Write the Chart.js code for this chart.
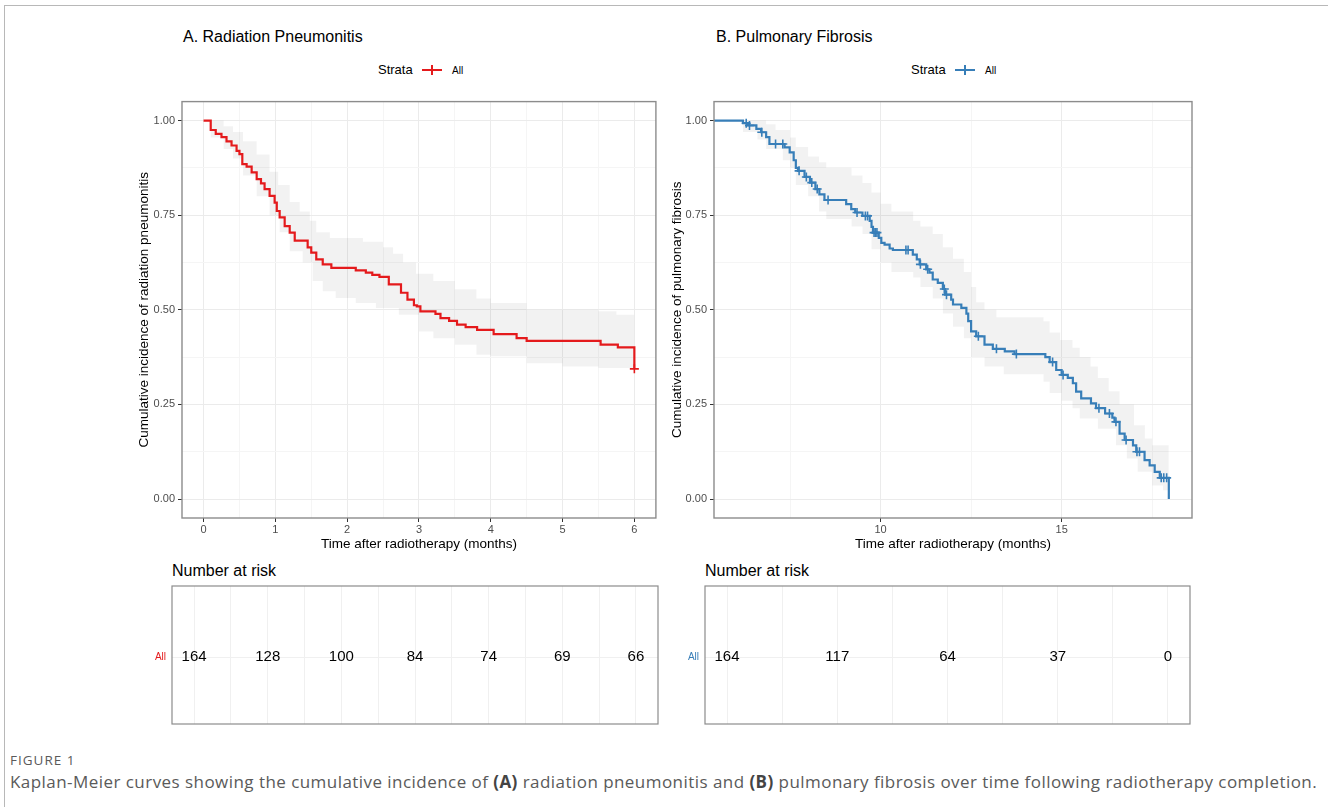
<!DOCTYPE html>
<html>
<head>
<meta charset="utf-8">
<script src="https://cdn.jsdelivr.net/npm/chart.js@4.4.1/dist/chart.umd.min.js"></script>
<style>
  body { margin: 0; background: #fff; width: 1328px; height: 807px; position: relative; overflow: hidden;
         font-family: "Liberation Sans", Arial, sans-serif; }
  .frame { position: absolute; left: 4px; top: 5px; right: 0; bottom: 0;
           border-top: 1px solid #b8b8b8; border-left: 1px solid #b8b8b8; }
  .txt { position: absolute; white-space: nowrap; color: #000; }
  canvas { position: absolute; }
  .mark { position: absolute; width: 20px; height: 2px; }
  .mark::after { content: ""; position: absolute; left: 9px; top: -4px; width: 2px; height: 10px; background: inherit; }
  .cap { font-family: "Open Sans", sans-serif; color: #5a5a5a; }
  .cap b { color: #444; }
</style>
</head>
<body>
<div class="frame"></div>

<div class="txt" style="left:183px; top:28px; font-size:16px; line-height:18px;">A. Radiation Pneumonitis</div>
<div class="txt" style="left:378px; top:63px; font-size:13px; line-height:14px;">Strata</div>
<div class="mark" style="left:422px; top:69px; background:#e41a1c;"></div>
<div class="txt" style="left:452px; top:65px; font-size:10px; line-height:11px;">All</div>

<div class="txt" style="left:716px; top:28px; font-size:16px; line-height:18px;">B. Pulmonary Fibrosis</div>
<div class="txt" style="left:911px; top:63px; font-size:13px; line-height:14px;">Strata</div>
<div class="mark" style="left:955px; top:69px; background:#377eb8;"></div>
<div class="txt" style="left:985px; top:65px; font-size:10px; line-height:11px;">All</div>

<div class="txt" style="left:172px; top:562px; font-size:16px; line-height:18px;">Number at risk</div>
<div class="txt" style="left:705px; top:562px; font-size:16px; line-height:18px;">Number at risk</div>

<canvas id="kmA" width="537" height="470" style="left:125px; top:92px;"></canvas>
<canvas id="kmB" width="545" height="470" style="left:657px; top:92px;"></canvas>
<canvas id="riskA" width="530" height="150" style="left:140px; top:580px;"></canvas>
<canvas id="riskB" width="530" height="150" style="left:670px; top:580px;"></canvas>

<div class="txt cap" style="left:10px; top:751px; font-size:13.5px; line-height:18px; letter-spacing:1px;">FIGURE 1</div>
<div class="txt cap" style="left:10px; top:771px; font-size:17px; line-height:22px; letter-spacing:0.45px;">Kaplan-Meier curves showing the cumulative incidence of <b>(A)</b> radiation pneumonitis and <b>(B)</b> pulmonary fibrosis over time following radiotherapy completion.</div>

<script>
// A. radiation pneumonitis (months 0-6)
const timesA = [0, 0.1, 0.17, 0.25, 0.32, 0.39, 0.46, 0.5, 0.54, 0.6, 0.67, 0.74, 0.8, 0.85, 0.92, 0.99, 1.02, 1.06, 1.13, 1.2,
  1.27, 1.45, 1.5, 1.57, 1.66, 1.78, 2.12, 2.26, 2.35, 2.45, 2.58, 2.75, 2.84, 2.93, 2.97, 3.02, 3.23, 3.3, 3.42, 3.53,
  3.65, 3.81, 4.04, 4.36, 4.5, 5.53, 5.77, 6.0];
const incidenceA = [1, 0.975, 0.965, 0.956, 0.945, 0.934, 0.92, 0.911, 0.885, 0.878, 0.863, 0.845, 0.834, 0.819, 0.801, 0.783, 0.761, 0.744, 0.721, 0.704,
  0.683, 0.665, 0.651, 0.633, 0.62, 0.611, 0.604, 0.598, 0.592, 0.587, 0.567, 0.545, 0.527, 0.512, 0.509, 0.496, 0.489, 0.478, 0.471, 0.461,
  0.454, 0.447, 0.436, 0.425, 0.418, 0.408, 0.401, 0.344];
const upperTimesA = [0, 0.28, 0.41, 0.55, 0.74, 0.92, 1.04, 1.2, 1.34, 1.48, 1.57, 1.76, 2.22, 2.5, 2.64, 2.78, 2.96, 3.2, 3.5, 3.8, 4.0, 4.5, 5.5, 5.75, 6.0];
const upperA = [1, 0.985, 0.97, 0.945, 0.91, 0.865, 0.83, 0.785, 0.76, 0.735, 0.705, 0.69, 0.68, 0.665, 0.648, 0.625, 0.595, 0.576, 0.554, 0.53, 0.518, 0.5, 0.496, 0.487, 0.483];
const lowerTimesA = [0, 0.1, 0.28, 0.41, 0.55, 0.74, 0.92, 1.06, 1.2, 1.38, 1.52, 1.66, 1.84, 2.12, 2.4, 2.72, 3.0, 3.2, 3.5, 3.8, 4.0, 4.5, 5.0, 5.5, 6.0];
const lowerA = [1, 0.955, 0.925, 0.9, 0.855, 0.8, 0.75, 0.705, 0.655, 0.625, 0.576, 0.549, 0.531, 0.518, 0.505, 0.487, 0.443, 0.425, 0.408, 0.381, 0.377, 0.359, 0.35, 0.346, 0.332];
const censorTimesA = [6.0];
const censorA = [0.344];
const riskTimesA = [0, 1, 2, 3, 4, 5, 6];
const riskA = [164, 128, 100, 84, 74, 69, 66];
const xTicksA = [0, 1, 2, 3, 4, 5, 6];
const xMinorA = [0.5, 1.5, 2.5, 3.5, 4.5, 5.5];

// B. pulmonary fibrosis (months 6-18)
const timesB = [5.4, 6.2, 6.34, 6.57, 6.7, 6.84, 6.93, 7.35, 7.49, 7.6, 7.66, 7.72, 7.9, 8.05, 8.2, 8.31, 8.45, 9.05, 9.19, 9.3,
  9.5, 9.7, 9.75, 9.79, 9.95, 10.02, 10.11, 10.25, 10.34, 10.89, 11.0, 11.08, 11.26, 11.35, 11.44, 11.58, 11.72, 11.78, 11.95, 12.0,
  12.23, 12.37, 12.42, 12.5, 12.64, 12.87, 13.1, 13.43, 13.7, 14.55, 14.67, 14.85, 15.0, 15.17, 15.31, 15.4, 15.54, 15.81, 15.95, 16.2,
  16.4, 16.46, 16.6, 16.74, 16.97, 17.06, 17.29, 17.43, 17.57, 17.71, 17.96];
const incidenceB = [1, 0.993, 0.987, 0.978, 0.969, 0.956, 0.938, 0.929, 0.916, 0.895, 0.875, 0.867, 0.851, 0.836, 0.819, 0.805, 0.79, 0.779, 0.766, 0.757,
  0.748, 0.735, 0.719, 0.704, 0.69, 0.677, 0.672, 0.662, 0.658, 0.646, 0.633, 0.62, 0.607, 0.598, 0.58, 0.571, 0.555, 0.54, 0.527, 0.514,
  0.505, 0.49, 0.47, 0.443, 0.43, 0.408, 0.397, 0.39, 0.383, 0.375, 0.362, 0.341, 0.328, 0.32, 0.306, 0.284, 0.266, 0.253, 0.24, 0.226,
  0.215, 0.204, 0.173, 0.156, 0.142, 0.125, 0.103, 0.089, 0.072, 0.056, 0];
const upperTimesB = [5.4, 6.5, 6.84, 7.1, 7.5, 7.66, 8.0, 8.3, 8.5, 9.2, 9.5, 9.75, 10.0, 10.3, 10.9, 11.1, 11.44, 11.72, 12.0, 12.3,
  12.5, 12.64, 12.87, 13.2, 14.5, 14.67, 14.96, 15.3, 15.5, 15.8, 16.0, 16.3, 16.6, 17.0, 17.3, 17.5, 17.96];
const upperB = [1, 1, 0.99, 0.975, 0.955, 0.93, 0.905, 0.89, 0.875, 0.855, 0.835, 0.81, 0.78, 0.76, 0.735, 0.72, 0.7, 0.665, 0.635, 0.6,
  0.56, 0.52, 0.5, 0.48, 0.47, 0.44, 0.42, 0.4, 0.375, 0.35, 0.32, 0.285, 0.25, 0.195, 0.16, 0.142, 0.142];
const lowerTimesB = [5.4, 6.2, 6.6, 6.84, 7.3, 7.5, 7.66, 8.0, 8.3, 8.5, 9.2, 9.5, 9.75, 10.0, 10.3, 10.9, 11.1, 11.44, 11.72, 12.0,
  12.3, 12.5, 12.87, 13.4, 14.5, 14.67, 15.0, 15.3, 15.5, 16.0, 16.5, 16.8, 17.1, 17.5, 17.8, 17.96];
const lowerB = [1, 0.97, 0.95, 0.925, 0.895, 0.875, 0.83, 0.8, 0.76, 0.74, 0.72, 0.7, 0.66, 0.625, 0.6, 0.585, 0.56, 0.53, 0.49, 0.455,
  0.425, 0.375, 0.35, 0.33, 0.31, 0.28, 0.26, 0.24, 0.213, 0.186, 0.142, 0.107, 0.072, 0.036, 0.023, 0.023];
const censorTimesB = [6.29, 6.38, 6.72, 7.1, 7.3, 7.75, 7.95, 8.1, 8.25, 8.55, 9.35, 9.58, 9.64, 9.82, 9.86, 9.9, 10.7, 10.76, 11.1, 11.3,
  11.76, 11.82, 12.7, 13.2, 13.75, 14.75, 15.04, 16.03, 16.32, 16.5, 16.78, 17.08, 17.15, 17.75, 17.82, 17.9];
const censorB = [0.993, 0.987, 0.969, 0.938, 0.938, 0.867, 0.851, 0.836, 0.819, 0.79, 0.757, 0.748, 0.748, 0.704, 0.704, 0.704, 0.658, 0.658, 0.62, 0.607,
  0.555, 0.54, 0.43, 0.397, 0.383, 0.362, 0.328, 0.24, 0.226, 0.204, 0.156, 0.125, 0.125, 0.056, 0.056, 0.056];
const riskTimesB = [6, 9, 12, 15, 18];
const riskB = [164, 117, 64, 37, 0];
const xTicksB = [10, 15];
const xMinorB = [7.5, 12.5, 17.5];
const riskGridB = [6, 7.5, 9, 10.5, 12, 13.5, 15, 16.5, 18];

const yTicks = [0, 0.25, 0.5, 0.75, 1];
const yMinor = [0.125, 0.375, 0.625, 0.875];

const RED = "#e41a1c";
const BLUE = "#377eb8";

Chart.defaults.font.family = '"Liberation Sans", Arial, sans-serif';
Chart.defaults.animation = false;

const toPoints = (xs, ys) => xs.map((x, i) => ({ x, y: ys[i] }));

// draws the grey box round the plotting area
const panelBorder = {
  id: "panelBorder",
  afterDraw(chart, args, opts) {
    const { ctx, chartArea: a } = chart;
    ctx.save();
    ctx.strokeStyle = opts.color || "#8c8c8c";
    ctx.lineWidth = opts.width || 1.4;
    ctx.strokeRect(a.left, a.top, a.width, a.height);
    ctx.restore();
  },
};

// writes the at-risk counts at the dataset points
const riskLabels = {
  id: "riskLabels",
  afterDatasetsDraw(chart, args, opts) {
    if (!opts.counts) return;
    const { ctx } = chart;
    const meta = chart.getDatasetMeta(0);
    ctx.save();
    ctx.font = '15px "Liberation Sans", Arial, sans-serif';
    ctx.fillStyle = "#000";
    ctx.textAlign = "center";
    ctx.textBaseline = "middle";
    meta.data.forEach((pt, i) => ctx.fillText(String(opts.counts[i]), pt.x, pt.y));
    ctx.restore();
  },
};

Chart.register(panelBorder, riskLabels);

function tickScale(major, minor) {
  return (scale) => {
    scale.ticks = [...major, ...minor].sort((a, b) => a - b).map((v) => ({ value: v }));
  };
}

function kmChart(id, d) {
  new Chart(document.getElementById(id), {
    type: "line",
    data: {
      datasets: [
        {
          data: toPoints(d.times, d.inc),
          stepped: true,
          borderColor: d.color,
          borderWidth: 2.2,
          pointRadius: 0,
          fill: false,
        },
        {
          data: toPoints(d.censT, d.censV),
          showLine: false,
          pointStyle: "cross",
          pointRadius: 4.5,
          borderColor: d.color,
          borderWidth: 1.6,
        },
        {
          data: toPoints(d.loT, d.lo),
          stepped: true,
          borderWidth: 0,
          pointRadius: 0,
          fill: false,
        },
        {
          data: toPoints(d.upT, d.up),
          stepped: true,
          borderWidth: 0,
          pointRadius: 0,
          fill: "-1",
          backgroundColor: "rgba(0,0,0,0.05)",
        },
      ],
    },
    options: {
      responsive: false,
      layout: { padding: { top: 9, right: d.padRight, left: 0, bottom: 0 } },
      plugins: { legend: { display: false }, tooltip: { enabled: false }, panelBorder: {} },
      scales: {
        x: {
          type: "linear",
          min: d.xMin,
          max: d.xMax,
          afterBuildTicks: tickScale(d.xMajor, d.xMinor),
          afterFit: (s) => { s.height = 44; },
          grid: {
            color: (c) => (d.xMajor.includes(c.tick && c.tick.value) ? "#ebebeb" : "#f5f5f5"),
            tickColor: (c) => (d.xMajor.includes(c.tick && c.tick.value) ? "#333" : "rgba(0,0,0,0)"),
            tickLength: 4,
            lineWidth: 1,
          },
          border: { display: false },
          ticks: {
            autoSkip: false,
            maxRotation: 0,
            padding: 1,
            color: "#4d4d4d",
            font: { size: 11 },
            callback: (v) => (d.xMajor.includes(v) ? String(v) : ""),
          },
          title: {
            display: true,
            text: "Time after radiotherapy (months)",
            color: "#000",
            font: { size: 13.5 },
            padding: { top: 0, bottom: 10 },
          },
        },
        y: {
          type: "linear",
          min: -0.05,
          max: 1.05,
          afterBuildTicks: tickScale(yTicks, yMinor),
          afterFit: (s) => { s.width = 57; },
          grid: {
            color: (c) => (yTicks.includes(c.tick && c.tick.value) ? "#ebebeb" : "#f5f5f5"),
            tickColor: (c) => (yTicks.includes(c.tick && c.tick.value) ? "#333" : "rgba(0,0,0,0)"),
            tickLength: 4,
          },
          border: { display: false },
          ticks: {
            autoSkip: false,
            padding: 3,
            color: "#4d4d4d",
            font: { size: 11 },
            callback: (v) => (yTicks.includes(v) ? v.toFixed(2) : ""),
          },
          title: {
            display: true,
            text: d.yTitle,
            color: "#000",
            font: { size: 13.5 },
            padding: { top: d.yTitlePad, bottom: 0 },
          },
        },
      },
    },
  });
}

function riskChart(id, d) {
  new Chart(document.getElementById(id), {
    type: "scatter",
    data: {
      datasets: [{ data: d.times.map((t) => ({ x: t, y: 1 })), pointRadius: 0 }],
    },
    options: {
      responsive: false,
      layout: { padding: { top: 6, right: d.padRight, left: 0, bottom: 0 } },
      plugins: {
        legend: { display: false },
        tooltip: { enabled: false },
        panelBorder: { color: "#8c8c8c", width: 1.2 },
        riskLabels: { counts: d.counts },
      },
      scales: {
        x: {
          type: "linear",
          min: d.xMin,
          max: d.xMax,
          afterBuildTicks: (s) => { s.ticks = d.grid.map((v) => ({ value: v })); },
          afterFit: (s) => { s.height = 6; s.paddingLeft = 0; s.paddingRight = 0; },
          grid: { color: "#f0f0f0", drawTicks: false },
          border: { display: false },
          ticks: { display: false },
        },
        y: {
          type: "linear",
          min: 0,
          max: 2.06,
          afterBuildTicks: (s) => { s.ticks = [{ value: 1 }]; },
          afterFit: (s) => { s.width = d.yWidth; s.paddingTop = 0; s.paddingBottom = 0; },
          grid: { color: "#f0f0f0", drawTicks: false },
          border: { display: false },
          ticks: {
            padding: 6,
            color: d.color,
            font: { size: 10 },
            callback: () => "All",
          },
        },
      },
    },
  });
}

kmChart("kmA", {
  times: timesA, inc: incidenceA, upT: upperTimesA, up: upperA, loT: lowerTimesA, lo: lowerA,
  censT: censorTimesA, censV: censorA, color: RED,
  xMin: -0.3, xMax: 6.3, xMajor: xTicksA, xMinor: xMinorA,
  yTitle: "Cumulative incidence of radiation pneumonitis", yTitlePad: 11, padRight: 4,
});

kmChart("kmB", {
  times: timesB, inc: incidenceB, upT: upperTimesB, up: upperB, loT: lowerTimesB, lo: lowerB,
  censT: censorTimesB, censV: censorB, color: BLUE,
  xMin: 5.4, xMax: 18.6, xMajor: xTicksB, xMinor: xMinorB,
  yTitle: "Cumulative incidence of pulmonary fibrosis", yTitlePad: 12, padRight: 10,
});

riskChart("riskA", {
  times: riskTimesA, counts: riskA, color: RED, xMin: -0.3, xMax: 6.3,
  grid: [...xTicksA, ...xMinorA], yWidth: 32, padRight: 12,
});

riskChart("riskB", {
  times: riskTimesB, counts: riskB, color: BLUE, xMin: 5.4, xMax: 18.6,
  grid: riskGridB, yWidth: 35, padRight: 10,
});
</script>
</body>
</html>
